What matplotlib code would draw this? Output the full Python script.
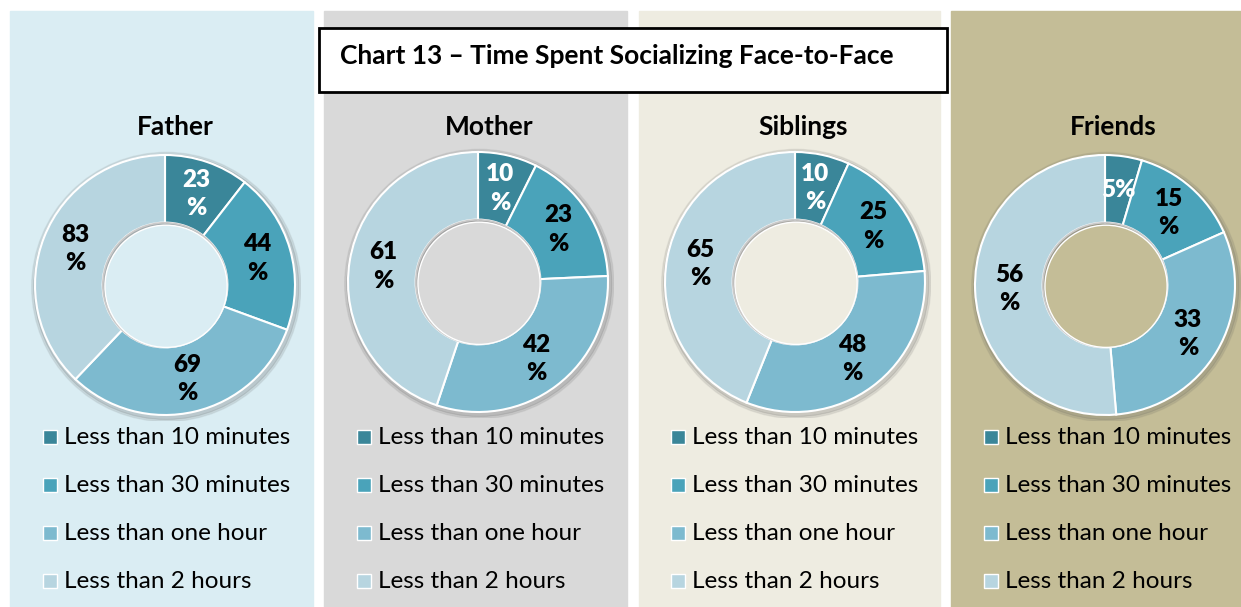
import numpy as np
import matplotlib.pyplot as plt
from matplotlib.patches import Rectangle, Circle

categories = ["Less than 10 minutes", "Less than 30 minutes",
              "Less than one hour", "Less than 2 hours"]
groups = ["Father", "Mother", "Siblings", "Friends"]
father = [23, 44, 69, 83]
mother = [10, 23, 42, 61]
siblings = [10, 25, 48, 65]
friends = [5, 15, 33, 56]
values = [father, mother, siblings, friends]

colors = ["#3A8699", "#4AA3BA", "#7DBACF", "#B7D5E0"]
panel_bg = ["#DAEDF3", "#D9D9D9", "#EEECE1", "#C4BD97"]
panel_x = [(10, 313), (324, 627), (639, 940), (951, 1241)]
centers = [(165, 285), (478, 282), (795, 282), (1105, 285)]
title_x = [175, 489, 803, 1113]
leg_x = [43, 357, 671, 984]

W, H = 1241, 607
fig = plt.figure(figsize=(W / 100, H / 100), dpi=100)
plt.rcParams['font.family'] = ['Lato', 'DejaVu Sans']


def fx(px):
    return px / W


def fy(py):
    return 1 - py / H


# panel backgrounds
for (x0, x1), bg in zip(panel_x, panel_bg):
    fig.patches.append(Rectangle((fx(x0), 0), fx(x1 - x0), fy(11),
                                 transform=fig.transFigure, color=bg, zorder=-2))

R = 130
for i, g in enumerate(groups):
    cx, cy = centers[i]
    ax = fig.add_axes([fx(cx - R - 6), fy(cy + R + 6), fx(2 * R + 12), (2 * R + 12) / H])
    ax.set_zorder(1)
    ax.patch.set_visible(False)
    # soft shadow around the ring
    for k, a in [(1.035, 0.10), (1.02, 0.15)]:
        ax.add_patch(Circle((0.01, -0.015), k, color='#555555', alpha=a, zorder=0))
    wedges, texts = ax.pie(values[i], colors=colors, startangle=90, counterclock=False,
                           radius=1.0, wedgeprops=dict(width=0.52, edgecolor='white', linewidth=1.5))
    lim = (R + 6) / R
    ax.set_xlim(-lim, lim)
    ax.set_ylim(-lim, lim)
    ax.set_aspect('equal')
    ax.axis('off')
    # hole with a faint shadow rim
    ax.add_patch(Circle((0, 0), 0.485, facecolor='#8a8a8a', alpha=0.45, zorder=3))
    ax.add_patch(Circle((0.008, -0.01), 0.47, facecolor=panel_bg[i], edgecolor='white',
                        linewidth=1.0, zorder=3))
    tot = sum(values[i])
    cum = 0
    for j, v in enumerate(values[i]):
        mid = 90 - (cum + v / 2) / tot * 360
        cum += v
        r = 0.74
        lab = f"{v}%" if v < 10 else f"{v}\n%"
        ax.text(r * np.cos(np.radians(mid)), r * np.sin(np.radians(mid)), lab,
                ha='center', va='center', fontsize=17.5, fontweight='heavy',
                color='white' if j == 0 else 'black', linespacing=1.35, zorder=5)
    fig.text(fx(title_x[i]), fy(127), g, ha='center', va='center',
             fontsize=19, fontweight='bold')
    # legend
    for j, cat in enumerate(categories):
        yy = 437 + j * 48
        fig.patches.append(Rectangle((fx(leg_x[i]), fy(yy + 7)), fx(14), 14 / H,
                                     transform=fig.transFigure, facecolor=colors[j],
                                     edgecolor='white', linewidth=1, zorder=2))
        fig.text(fx(leg_x[i] + 21), fy(yy), cat, ha='left', va='center', fontsize=17.5)

# title box
fig.patches.append(Rectangle((fx(319), fy(92)), fx(628), 64 / H, transform=fig.transFigure,
                             facecolor='white', edgecolor='black', linewidth=2, zorder=4))
fig.text(fx(340), fy(56), "Chart 13 \u2013 Time Spent Socializing Face-to-Face",
         ha='left', va='center', fontsize=19, fontweight='bold', zorder=5)

fig.savefig("out.png", dpi=100)
